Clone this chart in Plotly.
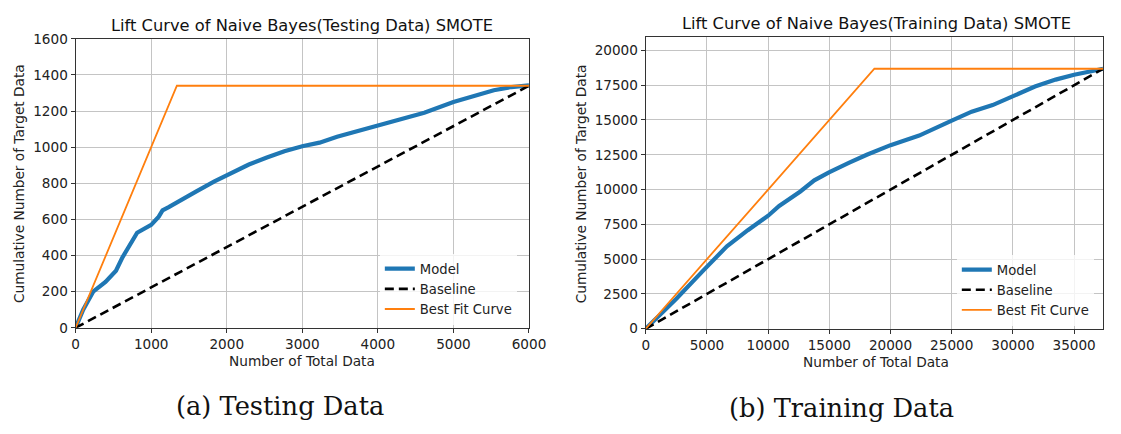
import plotly.graph_objects as go

# Testing set: cumulative captured targets vs. number of records ranked by model score
test_total = 6000
test_positives = 1340
test_x = [0, 100, 232, 395, 534, 620, 814, 1000, 1100, 1150, 1232, 1400, 1604, 1837, 2000,
          2293, 2531, 2763, 3000, 3228, 3460, 3692, 4000, 4381, 4614, 5000, 5302, 5535,
          5767, 6000]
test_y = [0, 100, 200, 254, 316, 390, 526, 570, 615, 650, 668, 710, 757, 810, 845,
          904, 943, 978, 1005, 1025, 1058, 1085, 1120, 1165, 1191, 1250, 1288, 1315,
          1333, 1342]

# Training set (SMOTE balanced)
train_total = 37360
train_positives = 18680
train_x = [0, 2500, 4770, 6630, 8340, 10000, 10900, 12630, 13770, 14970, 16630, 18060,
           20000, 22340, 25000, 26630, 28340, 29490, 30000, 31800, 33490, 35000, 36500,
           37360]
train_y = [0, 2150, 4250, 5920, 7080, 8120, 8820, 9860, 10660, 11240, 11930, 12500,
           13190, 13880, 14950, 15600, 16070, 16530, 16760, 17400, 17900, 18250, 18520,
           18680]

W, H = 1121, 434
BLUE = "#1f77b4"
ORANGE = "#ff7f0e"
FONT = "DejaVu Sans"
TXT = "#222222"


def px_x(p):
    return min(1.0, p / W)


def px_y(p):
    return max(0.0, 1 - p / H)


fig = go.Figure()


def add_panel(xs, ys, total, positives, xa, ya, legend):
    fig.add_trace(go.Scatter(x=xs, y=ys, mode="lines", name="Model",
                             line=dict(color=BLUE, width=4.2),
                             xaxis=xa, yaxis=ya, legend=legend))
    fig.add_trace(go.Scatter(x=[0, total], y=[0, positives], mode="lines", name="Baseline",
                             line=dict(color="black", width=2.6, dash="9px,5px"),
                             xaxis=xa, yaxis=ya, legend=legend))
    fig.add_trace(go.Scatter(x=[0, positives, total], y=[0, positives, positives],
                             mode="lines", name="Best Fit Curve",
                             line=dict(color=ORANGE, width=1.8),
                             xaxis=xa, yaxis=ya, legend=legend))


add_panel(test_x, test_y, test_total, test_positives, "x", "y", "legend")
add_panel(train_x, train_y, train_total, train_positives, "x2", "y2", "legend2")

axis_common = dict(
    showgrid=True, gridcolor="#c4c4c4", gridwidth=1,
    showline=True, linecolor="#333333", linewidth=1.2, mirror=True,
    ticks="outside", ticklen=4, tickcolor="#333333", tickwidth=1,
    tickfont=dict(family=FONT, size=13.6, color=TXT),
    tickformat="d",
    zeroline=False, fixedrange=True,
)

legend_common = dict(xanchor="left", yanchor="top",
                     bgcolor="rgba(255,255,255,0.8)", borderwidth=0,
                     font=dict(family=FONT, size=13.2, color=TXT), tracegroupgap=0)

fig.update_layout(
    width=W, height=H,
    margin=dict(l=0, r=0, t=0, b=0),
    paper_bgcolor="white", plot_bgcolor="white",
    font=dict(family=FONT, size=13.6, color=TXT),
    xaxis=dict(domain=[px_x(73), px_x(535)], range=[0, 6000], dtick=1000,
               anchor="y", **axis_common),
    yaxis=dict(domain=[px_y(332), px_y(32)], range=[0, 1600], dtick=200,
               anchor="x", **axis_common),
    xaxis2=dict(domain=[px_x(654), px_x(1120)], range=[0, train_total], dtick=5000,
                anchor="y2", **axis_common),
    yaxis2=dict(domain=[px_y(333), px_y(30)], range=[0, 20970], dtick=2500,
                anchor="x2", **axis_common),
    legend=dict(x=px_x(383), y=px_y(255), **legend_common),
    legend2=dict(x=px_x(971), y=px_y(256), **legend_common),
)

annotations = [
    # panel titles
    dict(text="Lift Curve of Naive Bayes(Testing Data) SMOTE", x=px_x(304), y=px_y(18),
         font=dict(family=FONT, size=16.3, color="#111111")),
    dict(text="Lift Curve of Naive Bayes(Training Data) SMOTE", x=px_x(889), y=px_y(16),
         font=dict(family=FONT, size=16.3, color="#111111")),
    # axis titles
    dict(text="Number of Total Data", x=px_x(304), y=px_y(366),
         font=dict(family=FONT, size=13.7, color=TXT)),
    dict(text="Number of Total Data", x=px_x(889), y=px_y(368),
         font=dict(family=FONT, size=13.7, color=TXT)),
    dict(text="Cumulative Number of Target Data", x=px_x(16), y=px_y(182), textangle=-90,
         font=dict(family=FONT, size=13.7, color=TXT)),
    dict(text="Cumulative Number of Target Data", x=px_x(588), y=px_y(182), textangle=-90,
         font=dict(family=FONT, size=13.7, color=TXT)),
    # sub-figure captions
    dict(text="(a) Testing Data", x=px_x(281), y=px_y(413),
         font=dict(family="DejaVu Serif", size=25.7, color="#111111")),
    dict(text="(b) Training Data", x=px_x(853), y=px_y(415),
         font=dict(family="DejaVu Serif", size=25.7, color="#111111")),
]
for a in annotations:
    a.update(xref="paper", yref="paper", xanchor="center", yanchor="middle", showarrow=False)
fig.update_layout(annotations=annotations)

fig.write_html("out.html")
